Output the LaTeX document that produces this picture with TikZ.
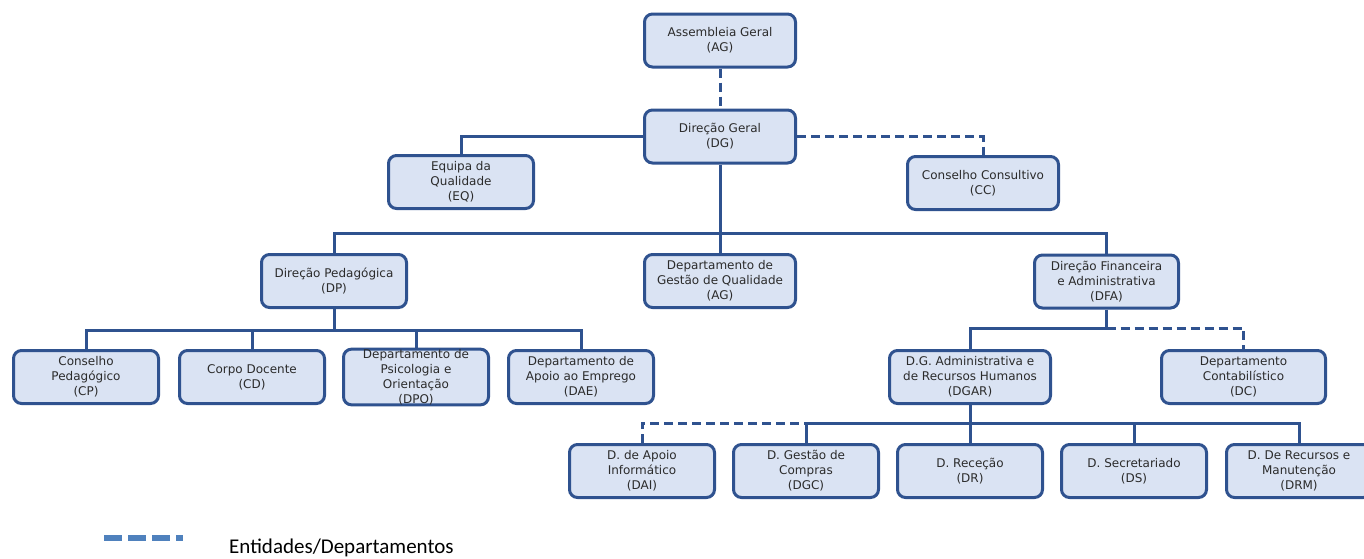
\documentclass[tikz,border=0pt]{standalone}
\usepackage{fontspec}
\setmainfont{DejaVu Sans}
\newfontfamily\legenda{Carlito}
\usetikzlibrary{calc}
\definecolor{azulEscuro}{HTML}{2F528F}
\definecolor{azulClaro}{HTML}{DAE3F3}
\definecolor{azulLegenda}{HTML}{4F81BD}
\definecolor{textoCinza}{HTML}{2B2B2B}
\tikzset{
	caixa/.style={draw=azulEscuro, fill=azulClaro, line width=3pt,
		rounded corners=8pt, minimum height=53pt, minimum width=145pt,
		inner sep=0pt, align=center, text=textoCinza,
		font=\fontsize{12}{15}\selectfont},
	ligacao/.style={draw=azulEscuro, line width=3pt},
	tracejado/.style={ligacao, dash pattern=on 9pt off 5pt}
}
\newcommand{\descer}[2]{
	\draw [ligacao] (#1) -- (#1 |- #2);
}

\begin{document}
\begin{tikzpicture}[x=1pt, y=-1pt]
	\useasboundingbox (0,0) rectangle (1364,558);

	% topo
	\node[caixa, minimum width=151pt] (AG) at (720,40.5) {Assembleia Geral\\(AG)};
	\node[caixa, minimum width=151pt] (DG) at (720,136.5) {Direção Geral\\(DG)};
	\node[caixa] (EQ) at (461,182) {Equipa da\\Qualidade\\(EQ)};
	\node[caixa, minimum width=151pt] (CC) at (983,183) {Conselho Consultivo\\(CC)};

	\draw [tracejado] (AG.south) -- (DG.north);
	\draw [ligacao] (DG.west) -| (EQ.north);
	\draw [tracejado] (DG.east) -| (CC.north);

	% segundo nivel
	\node[caixa] (DP) at (334,281) {Direção Pedagógica\\(DP)};
	\node[caixa, minimum width=151pt] (DGQ) at (720,281) {Departamento de\\Gestão de Qualidade\\(AG)};
	\node[caixa, minimum width=144pt] (DFA) at (1106.5,281.5) {Direção Financeira\\e Administrativa\\(DFA)};

	\coordinate (barraDG) at (720,233);
	\draw [ligacao] (DG.south) -- (barraDG);
	\draw [ligacao] (DP.north) |- (barraDG) -| (DFA.north);
	\descer{DGQ.north}{barraDG}

	% pedagogica
	\foreach \nome/\xc/\texto in {CP/86/{Conselho\\Pedagógico\\(CP)},
			CD/252/{Corpo Docente\\(CD)},
			DPO/416/{Departamento de\\Psicologia e\\Orientação\\(DPO)},
			DAE/581/{Departamento de\\Apoio ao Emprego\\(DAE)}}{
		\node[caixa] (\nome) at (\xc,377) {\texto};
	}
	\coordinate (barraDP) at (334,330);
	\draw [ligacao] (DP.south) -- (barraDP);
	\draw [ligacao] (CP.north) |- (barraDP) -| (DAE.north);
	\descer{CD.north}{barraDP}
	\descer{DPO.north}{barraDP}

	% financeira
	\node[caixa, minimum width=161pt] (DGAR) at (970,377) {D.G. Administrativa e\\de Recursos Humanos\\(DGAR)};
	\node[caixa, minimum width=164pt] (DC) at (1243.5,377) {Departamento\\Contabilístico\\(DC)};

	\coordinate (barraDFA) at (DFA.south |- 0,328);
	\draw [ligacao] (DFA.south) -- (barraDFA) -| (DGAR.north);
	\draw [tracejado] (barraDFA) -| (DC.north);

	\foreach \nome/\xc/\texto in {DAI/642/{D. de Apoio\\Informático\\(DAI)},
			DGC/806/{D. Gestão de\\Compras\\(DGC)},
			DR/970/{D. Receção\\(DR)},
			DS/1134/{D. Secretariado\\(DS)},
			DRM/1299/{D. De Recursos e\\Manutenção\\(DRM)}}{
		\node[caixa] (\nome) at (\xc,471) {\texto};
	}
	\coordinate (barraDGAR) at (DGAR.south |- 0,423);
	\draw [ligacao] (DGAR.south) -- (barraDGAR);
	\draw [ligacao] (DGC.north) |- (barraDGAR) -| (DRM.north);
	\descer{DR.north}{barraDGAR}
	\descer{DS.north}{barraDGAR}
	\draw [tracejado] (DAI.north) |- (DGC.north |- barraDGAR);

	% legenda
	\coordinate (legIni) at (104,538);
	\coordinate (legFim) at (183,538);
	\draw [azulLegenda, line width=6pt, dash pattern=on 18pt off 6pt] (legIni) -- (legFim);
	\node[anchor=base west, inner sep=0pt, font=\legenda\fontsize{21}{25}\selectfont] (legTexto) at (229,553) {Entidades/Departamentos};

\end{tikzpicture}
\end{document}
